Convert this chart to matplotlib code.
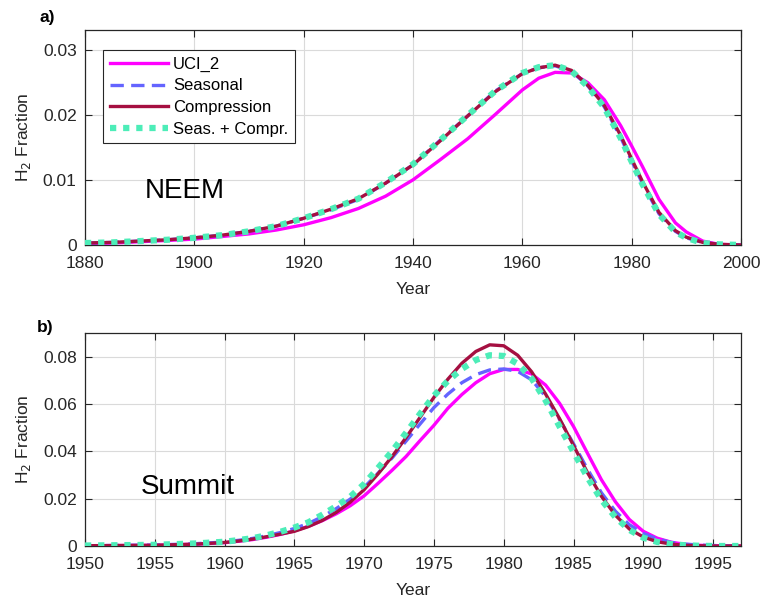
import matplotlib
matplotlib.use("Agg")
import matplotlib.pyplot as plt

plt.rcParams['font.family'] = ['Liberation Sans', 'DejaVu Sans']

# ---------------- Panel a (NEEM) ----------------
years_a = [1880, 1885, 1890, 1895, 1900, 1905, 1910, 1915, 1920, 1925, 1930, 1935,
           1940, 1945, 1950, 1955, 1960, 1963, 1966, 1969, 1972, 1975, 1978, 1980,
           1982, 1985, 1988, 1990, 1993, 1996, 2000]
uci_a = [0.0002, 0.0003, 0.0005, 0.0007, 0.0009, 0.0013, 0.0017, 0.0023, 0.0031, 0.0042,
         0.0056, 0.0075, 0.0100, 0.0131, 0.0163, 0.0200, 0.0238, 0.0256, 0.0265, 0.0264,
         0.0249, 0.0223, 0.0183, 0.0152, 0.0120, 0.0070, 0.0034, 0.0020, 0.0006, 0.0001, 0.0]
seas_a = [0.0003, 0.0004, 0.0006, 0.0008, 0.0011, 0.0015, 0.0021, 0.0029, 0.0041, 0.0054,
          0.0070, 0.0095, 0.0123, 0.0161, 0.0198, 0.0236, 0.0263, 0.0272, 0.0275, 0.0267,
          0.0244, 0.0212, 0.0165, 0.0129, 0.0094, 0.0048, 0.0021, 0.0011, 0.0004, 0.0001, 0.0]
comp_a = [0.0003, 0.0004, 0.0006, 0.0008, 0.0011, 0.0015, 0.0021, 0.0029, 0.0041, 0.0055,
          0.0071, 0.0095, 0.0123, 0.0160, 0.0198, 0.0235, 0.0263, 0.0272, 0.0276, 0.0268,
          0.0245, 0.0214, 0.0168, 0.0132, 0.0097, 0.0050, 0.0022, 0.0012, 0.0004, 0.0001, 0.0]
sc_a = [0.0003, 0.0004, 0.0006, 0.0008, 0.0011, 0.0015, 0.0021, 0.0029, 0.0041, 0.0055,
        0.0071, 0.0096, 0.0124, 0.0161, 0.0199, 0.0236, 0.0264, 0.0273, 0.0276, 0.0267,
        0.0243, 0.0211, 0.0164, 0.0128, 0.0093, 0.0047, 0.0020, 0.0011, 0.0003, 0.0001, 0.0]

# ---------------- Panel b (Summit) ----------------
years_b = [1950, 1955, 1958, 1960, 1961, 1962, 1963, 1964, 1965, 1966, 1967, 1968, 1969,
           1970, 1971, 1972, 1973, 1974, 1975, 1976, 1977, 1978, 1979, 1980, 1981, 1982,
           1983, 1984, 1985, 1986, 1987, 1988, 1989, 1990, 1991, 1992, 1993, 1994, 1995, 1997]
uci_b = [0.0001, 0.0003, 0.0008, 0.0014, 0.0020, 0.0027, 0.0037, 0.0049, 0.0064, 0.0083,
         0.0107, 0.0136, 0.0170, 0.0212, 0.0265, 0.0320, 0.0378, 0.0445, 0.0510, 0.0582,
         0.0640, 0.0690, 0.0728, 0.0746, 0.0746, 0.0727, 0.0680, 0.0603, 0.0505, 0.0392,
         0.0280, 0.0187, 0.0112, 0.0062, 0.0033, 0.0016, 0.0007, 0.0003, 0.0001, 0.0]
seas_b = [0.0001, 0.0004, 0.0010, 0.0017, 0.0024, 0.0032, 0.0043, 0.0057, 0.0074, 0.0095,
          0.0124, 0.0158, 0.0198, 0.0248, 0.0308, 0.0372, 0.0443, 0.0515, 0.0585, 0.0642,
          0.0690, 0.0724, 0.0744, 0.0748, 0.0738, 0.0702, 0.0632, 0.0535, 0.0432, 0.0325,
          0.0225, 0.0147, 0.0090, 0.0053, 0.0030, 0.0015, 0.0008, 0.0004, 0.0002, 0.0]
comp_b = [0.0001, 0.0003, 0.0008, 0.0015, 0.0021, 0.0029, 0.0039, 0.0050, 0.0062, 0.0082,
          0.0108, 0.0142, 0.0185, 0.0238, 0.0305, 0.0378, 0.0458, 0.0543, 0.0628, 0.0705,
          0.0772, 0.0822, 0.0850, 0.0846, 0.0806, 0.0736, 0.0642, 0.0538, 0.0425, 0.0310,
          0.0210, 0.0130, 0.0072, 0.0038, 0.0018, 0.0008, 0.0003, 0.0001, 0.0, 0.0]
sc_b = [0.0002, 0.0005, 0.0011, 0.0018, 0.0025, 0.0033, 0.0045, 0.0060, 0.0078, 0.0100,
        0.0132, 0.0168, 0.0208, 0.0262, 0.0330, 0.0400, 0.0478, 0.0558, 0.0635, 0.0698,
        0.0748, 0.0786, 0.0806, 0.0803, 0.0770, 0.0708, 0.0615, 0.0505, 0.0398, 0.0290,
        0.0195, 0.0122, 0.0068, 0.0035, 0.0017, 0.0008, 0.0003, 0.0001, 0.0, 0.0]

labels = ['UCI_2', 'Seasonal', 'Compression', 'Seas. + Compr.']
colors = ['#FF00FF', '#6464FF', '#A50F41', '#4DEDB8']

xticks_a = [1880, 1900, 1920, 1940, 1960, 1980, 2000]
yticks_a = [0, 0.01, 0.02, 0.03]
ytl_a = ['0', '0.01', '0.02', '0.03']
xticks_b = [1950, 1955, 1960, 1965, 1970, 1975, 1980, 1985, 1990, 1995]
yticks_b = [0, 0.02, 0.04, 0.06, 0.08]
ytl_b = ['0', '0.02', '0.04', '0.06', '0.08']

W, H = 762, 604
fig = plt.figure(figsize=(W / 100, H / 100), dpi=100)
ax_a = fig.add_axes([85 / W, (H - 245) / H, 656 / W, 215 / H])
ax_b = fig.add_axes([85 / W, (H - 546) / H, 656 / W, 213 / H])

def draw(ax, x, series):
    u, s, c, sc = series
    ax.plot(x, u, color=colors[0], lw=2.4, label=labels[0], zorder=3)
    ax.plot(x, s, color=colors[1], lw=2.4, ls=(0, (4, 2.2)), label=labels[1], zorder=4)
    ax.plot(x, c, color=colors[2], lw=2.4, label=labels[2], zorder=5)
    ax.plot(x, sc, color=colors[3], lw=4.5, ls=(0, (1, 1.1)), label=labels[3], zorder=6)

draw(ax_a, years_a, (uci_a, seas_a, comp_a, sc_a))
draw(ax_b, years_b, (uci_b, seas_b, comp_b, sc_b))

fs = 12.5
axis_col = '#262626'
for ax, xt, yt, ytl, xl, yl in [
        (ax_a, xticks_a, yticks_a, ytl_a, (1880, 2000), (0, 0.033)),
        (ax_b, xticks_b, yticks_b, ytl_b, (1950, 1997), (0, 0.09))]:
    ax.set_xlim(*xl)
    ax.set_ylim(*yl)
    ax.set_xticks(xt)
    ax.set_xticklabels([str(v) for v in xt])
    ax.set_yticks(yt)
    ax.set_yticklabels(ytl)
    ax.grid(True, color='#DADADA', lw=0.8)
    ax.set_axisbelow(True)
    ax.tick_params(direction='in', top=True, right=True, labelsize=fs,
                   colors=axis_col, length=5, width=0.8)
    ax.tick_params(axis='x', pad=8)
    ax.tick_params(axis='y', pad=6)
    for sp in ax.spines.values():
        sp.set_color(axis_col)
        sp.set_linewidth(0.9)
    ax.set_xlabel('Year', fontsize=fs, color=axis_col, labelpad=8)
    ax.set_ylabel('H$_2$ Fraction', fontsize=fs, color=axis_col, labelpad=7)

ax_a.text(1891, 0.0072, 'NEEM', fontsize=20, color='black')
ax_b.text(1954, 0.0219, 'Summit', fontsize=20, color='black')

fig.text(40 / W, 1 - 22 / H, 'a)', fontsize=12.5, fontweight='bold')
fig.text(37 / W, 1 - 332 / H, 'b)', fontsize=12.5, fontweight='bold')

leg = ax_a.legend(loc='upper left', bbox_to_anchor=(18 / 656, 1 - 20 / 215),
                  fontsize=fs - 0.5, frameon=True, fancybox=False, handlelength=3.5,
                  handletextpad=0.3, borderpad=0.4, labelspacing=0.4,
                  borderaxespad=0)
leg.get_frame().set_edgecolor(axis_col)
leg.get_frame().set_linewidth(0.8)
leg.get_frame().set_alpha(1)

fig.savefig('out.png', dpi=100)
